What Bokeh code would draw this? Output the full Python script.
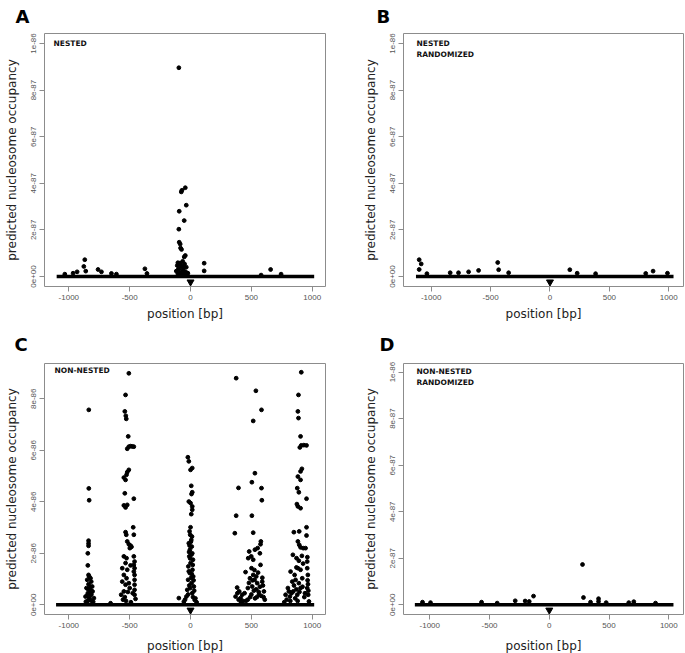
from bokeh.plotting import figure
from bokeh.models import Range1d, FixedTicker, Label
from bokeh.layouts import row, column
from bokeh.embed import file_html
from bokeh.resources import INLINE

# ---------------- shared axis data ----------------
x_ticks = [-1000, -500, 0, 500, 1000]
x_tick_labels = ["-1000", "-500", "0", "500", "1000"]
y_ticks_small = [0, 2e-87, 4e-87, 6e-87, 8e-87, 1e-86]
y_tick_labels_small = ["0e+00", "2e-87", "4e-87", "6e-87", "8e-87", "1e-86"]
y_ticks_c = [0, 2e-86, 4e-86, 6e-86, 8e-86]
y_tick_labels_c = ["0e+00", "2e-86", "4e-86", "6e-86", "8e-86"]
tss_x = [0]
x_title = "position [bp]"
y_title = "predicted nucleosome occupancy"

# ---------------- panel A: NESTED (values in 1e-87) ----------------
a_pos = [-96, -71, -76, -43, -35, -93, -52, -96, -93, -85, -82, -74, -43, -52,
         112, 112, -375, -358, -869, -877, -861, -932, -760, -732, -650, -609,
         -1033, -965, 658, 744, 580,
         -104, -90, -49, -109, -76, -35, -96, -63, -117, -82, -55, -22, -104,
         -71, -55, -90, -60, -40, -30, -100, -80, -65]
a_occ_e87 = [8.96, 3.70, 3.63, 3.81, 3.06, 2.80, 2.40, 2.03, 1.47, 1.39, 1.22, 1.16, 0.90, 0.84,
             0.57, 0.24, 0.33, 0.13, 0.72, 0.43, 0.23, 0.20, 0.30, 0.20, 0.13, 0.10,
             0.10, 0.14, 0.30, 0.10, 0.06,
             0.59, 0.57, 0.54, 0.47, 0.43, 0.40, 0.33, 0.29, 0.23, 0.19, 0.23, 0.14, 0.12,
             0.12, 0.40, 0.10, 0.08, 0.20, 0.10, 0.30, 0.50, 0.65]
a_base = [-1100, 1016]

# ---------------- panel B: NESTED RANDOMIZED (values in 1e-87) ----------------
b_pos = [-1101, -1084, -1101, -440, -432, -685, -601, 167, 868, 989,
         -840, -770, 229, -348, 806, 384, -1036]
b_occ_e87 = [0.72, 0.54, 0.30, 0.60, 0.29, 0.20, 0.26, 0.29, 0.23, 0.14,
             0.16, 0.16, 0.14, 0.16, 0.13, 0.12, 0.12]
b_base = [-1128, 1040]

# ---------------- panel C: NON-NESTED (values in 1e-86) ----------------
c_pos = [
    # peak near -830
    -836, -836, -833, -838, -838, -838, -844, -844, -838, -833, -822, -849, -816, -838,
    -808, -855, -827, -805, -844, -822, -863, -794, -833, -850, -815, -830, -845, -812,
    -825, -840, -818, -800, -860, -657,
    # peak near -500
    -507, -534, -540, -532, -528, -512, -507, -493, -479, -466, -520, -507, -520, -526,
    -548, -534, -540, -466, -548, -534, -520, -471, -466, -534, -528, -520, -507, -493,
    -485, -499, -548, -526, -534, -493, -561, -520, -466, -460, -466, -460, -466, -460,
    -548, -526, -561, -507, -534, -548, -460, -460, -460, -460, -570, -452, -540, -515,
    -500, -555, -475, -530, -490,
    # peak near 0
    -22, -14, 14, 0, 6, 14, 8, -14, 0, 14, 14, 6, 0, -8, -3, 6, -14, 10, -5, 14, -10,
    20, 0, -18, 16, -6, 22, -20, 8, 27, -27, 14, -34, 34, 3, -12, 8, -3, 18, -14, 10,
    25, -10, 30, -20, 40, -45, 50, -55, 20, -3, 5, -8, 12, -96,
    # peaks near 380 and 550
    375, 537, 583, 515, 529, 504, 394, 583, 586, 375, 504, 364, 515, 578, 575, 551, 529,
    570, 482, 499, 474, 515, 575, 452, 501, 515, 526, 488, 548, 507, 589, 471, 383, 400,
    424, 411, 370, 562, 603, 444, 520, 540, 560, 580, 600, 610, 500, 490, 530, 470, 455,
    430, 395, 385, 415, 540, 555, 590, 595, 510, 480, 525, 545, 570,
    # peak near 900
    910, 887, 882, 887, 904, 910, 931, 953, 898, 915, 904, 882, 904, 877, 890, 953, 874,
    882, 904, 953, 953, 849, 893, 882, 893, 904, 926, 945, 841, 871, 890, 822, 855, 882,
    904, 959, 959, 964, 836, 863, 890, 918, 800, 844, 877, 816, 959, 967, 973, 781, 808,
    904, 960, 962, 965, 968, 850, 830, 870, 895, 920, 940, 860, 880, 790, 770, 820, 935,
    925, 915, 870]
c_occ_e86 = [
    7.57, 4.52, 4.06, 2.49, 2.38, 2.29, 2.00, 1.53, 1.16, 1.10, 1.03, 0.97, 0.90, 0.80,
    0.71, 0.65, 0.58, 0.52, 0.45, 0.39, 0.32, 0.26, 0.19, 0.35, 0.40, 0.25, 0.15, 0.15,
    0.70, 0.60, 0.55, 0.12, 0.12, 0.06,
    8.99, 8.15, 7.51, 7.34, 7.22, 6.54, 6.14, 6.16, 6.15, 6.14, 6.06, 5.24, 5.15, 5.05,
    4.94, 4.85, 4.33, 4.12, 3.86, 3.78, 3.88, 3.01, 2.72, 2.82, 2.72, 2.46, 2.35, 2.30,
    2.25, 2.20, 1.88, 1.81, 1.62, 1.53, 1.42, 1.36, 1.88, 1.68, 1.55, 1.42, 1.29, 1.16,
    1.16, 1.03, 0.90, 0.84, 0.78, 0.52, 0.97, 0.78, 0.58, 0.39, 0.39, 0.23, 0.30, 0.50,
    0.65, 0.20, 0.45, 0.15, 0.10,
    5.73, 5.57, 5.31, 5.24, 4.62, 4.37, 4.30, 4.01, 3.95, 3.82, 3.69, 3.52, 3.01, 2.85,
    2.72, 2.52, 2.39, 2.26, 2.14, 2.00, 1.88, 1.75, 1.62, 1.49, 1.36, 1.23, 1.10, 0.97,
    0.84, 0.71, 0.58, 0.45, 0.32, 0.19, 2.45, 2.05, 1.95, 1.80, 1.55, 1.30, 1.20, 0.95,
    0.75, 0.55, 0.40, 0.25, 0.20, 0.10, 0.12, 0.30, 0.65, 1.05, 2.30, 2.65, 0.26,
    8.80, 8.31, 7.57, 7.14, 5.11, 4.76, 4.54, 4.53, 4.06, 3.46, 3.46, 2.78, 2.80, 2.46,
    2.35, 2.20, 2.14, 2.00, 2.07, 1.88, 1.81, 1.75, 1.55, 1.27, 1.42, 1.16, 0.97, 1.03,
    0.84, 0.71, 0.90, 0.65, 0.67, 0.52, 0.39, 0.26, 0.32, 0.39, 0.52, 0.45, 0.55, 0.60,
    0.50, 0.35, 0.30, 0.20, 0.40, 0.30, 0.25, 0.20, 0.15, 0.15, 0.20, 0.45, 0.10, 1.10,
    1.25, 1.05, 0.75, 0.95, 0.85, 1.35, 0.30, 0.70,
    9.03, 8.15, 7.51, 7.25, 6.54, 6.19, 6.20, 6.19, 6.11, 5.28, 5.18, 4.98, 4.85, 4.53,
    4.37, 4.12, 3.91, 3.82, 3.75, 3.01, 2.69, 2.82, 2.85, 2.46, 2.33, 2.23, 2.20, 2.20,
    1.94, 1.81, 1.71, 1.29, 1.16, 1.42, 1.36, 1.68, 1.42, 1.16, 0.90, 0.97, 0.84, 1.03,
    0.65, 0.52, 0.39, 0.32, 0.65, 0.39, 0.13, 0.39, 0.52, 0.65, 1.85, 0.95, 0.80, 0.55,
    0.75, 0.45, 0.60, 0.50, 0.70, 0.45, 0.25, 0.15, 0.20, 0.10, 0.15, 0.30, 1.60, 1.90,
    1.45]
c_base = [-1105, 1016]

# ---------------- panel D: NON-NESTED RANDOMIZED (values in 1e-87) ----------------
d_pos = [278, 286, -132, -285, -202, -168, 412, 412, 345, 476, 707, -567, -1061,
         -994, -436, 889, 665]
d_occ_e87 = [1.73, 0.31, 0.37, 0.17, 0.16, 0.14, 0.26, 0.14, 0.11, 0.09, 0.13, 0.11, 0.11,
             0.09, 0.07, 0.07, 0.09]
d_base = [-1125, 1039]

GRAY = "#8c8c8c"


def panel(letter, tag, pos, occ, base, xr, yr, yticks, ylabels,
          fw, fh, mbl, mbr, mbt, mbb, letter_dx, letter_standoff, tag_dx, tag_dy,
          xlab_standoff):
    p = figure(frame_width=fw, frame_height=fh, min_border_left=mbl,
               min_border_right=mbr, min_border_top=mbt, min_border_bottom=mbb,
               x_range=Range1d(*xr), y_range=Range1d(*yr), title=letter,
               output_backend="svg", toolbar_location=None)
    p.title.align = "left"
    p.title.vertical_align = "top"
    p.title.offset = letter_dx
    p.title.text_font = "DejaVu Sans"
    p.title.text_font_size = "18px"
    p.title.text_font_style = "bold"
    p.title.text_color = "black"
    p.title.standoff = letter_standoff

    p.grid.visible = False
    p.outline_line_color = GRAY
    p.outline_line_width = 1
    p.background_fill_color = "white"
    p.border_fill_color = "white"

    for ax in (p.xaxis[0], p.yaxis[0]):
        ax.axis_line_color = None
        ax.major_tick_line_color = GRAY
        ax.minor_tick_line_color = None
        ax.major_tick_in = 0
        ax.major_tick_out = 5
        ax.major_label_text_font = "Liberation Sans"
        ax.major_label_text_font_size = "8px"
        ax.major_label_text_color = "#555555"
        ax.axis_label_text_font = "DejaVu Sans"
        ax.axis_label_text_font_size = "12px"
        ax.axis_label_text_font_style = "normal"
        ax.axis_label_text_color = "#222222"
        ax.major_label_standoff = 3

    p.xaxis.ticker = FixedTicker(ticks=x_ticks)
    p.xaxis.major_label_overrides = dict(zip(x_ticks, x_tick_labels))
    p.xaxis.axis_label = x_title
    p.xaxis.axis_label_standoff = xlab_standoff

    p.yaxis.ticker = FixedTicker(ticks=yticks)
    p.yaxis.major_label_overrides = dict(zip(yticks, ylabels))
    p.yaxis.major_label_orientation = "vertical"
    p.yaxis.axis_label = y_title
    p.yaxis.axis_label_standoff = 10

    # dense baseline of near-zero values
    p.line(x=base, y=[0, 0], line_color="black", line_width=3.6)
    p.scatter(x=pos, y=occ, size=3.8, color="black")
    # TSS marker
    p.scatter(x=tss_x, y=[yr[0] * 0.55] * len(tss_x), marker="inverted_triangle",
              size=7, color="black")

    p.add_layout(Label(x=tag_dx, y=fh - tag_dy, x_units="screen", y_units="screen",
                       text=tag, text_font="DejaVu Sans", text_font_size="7.5px",
                       text_font_style="bold", text_baseline="top",
                       text_color="#111111", text_line_height=1.3))
    return p


yr_ab = (-0.043e-86, 1.043e-86)
pA = panel("A", "NESTED", a_pos, [v * 1e-87 for v in a_occ_e87], a_base,
           (-1200, 1109), yr_ab, y_ticks_small, y_tick_labels_small,
           281, 253, 44, 34, 33, 36, -29, 10, 9, 5, 4)
pB = panel("B", "NESTED\nRANDOMIZED", b_pos, [v * 1e-87 for v in b_occ_e87], b_base,
           (-1233, 1124), yr_ab, y_ticks_small, y_tick_labels_small,
           280, 253, 44, 2, 33, 36, -27, 10, 13, 5, 4)
pC = panel("C", "NON-NESTED", c_pos, [v * 1e-86 for v in c_occ_e86], c_base,
           (-1200, 1109), (-0.377e-86, 9.37e-86), y_ticks_c, y_tick_labels_c,
           281, 251, 44, 34, 40, 40, -30, 14, 10, 2, 8)
pD = panel("D", "NON-NESTED\nRANDOMIZED", d_pos, [v * 1e-87 for v in d_occ_e87], d_base,
           (-1220, 1123), (-0.042e-86, 1.037e-86), y_ticks_small, y_tick_labels_small,
           280, 251, 44, 2, 40, 40, -24, 14, 13, 3, 8)

layout = column(row(pA, pB), row(pC, pD))
open("out.html", "w").write(file_html(layout, INLINE))
